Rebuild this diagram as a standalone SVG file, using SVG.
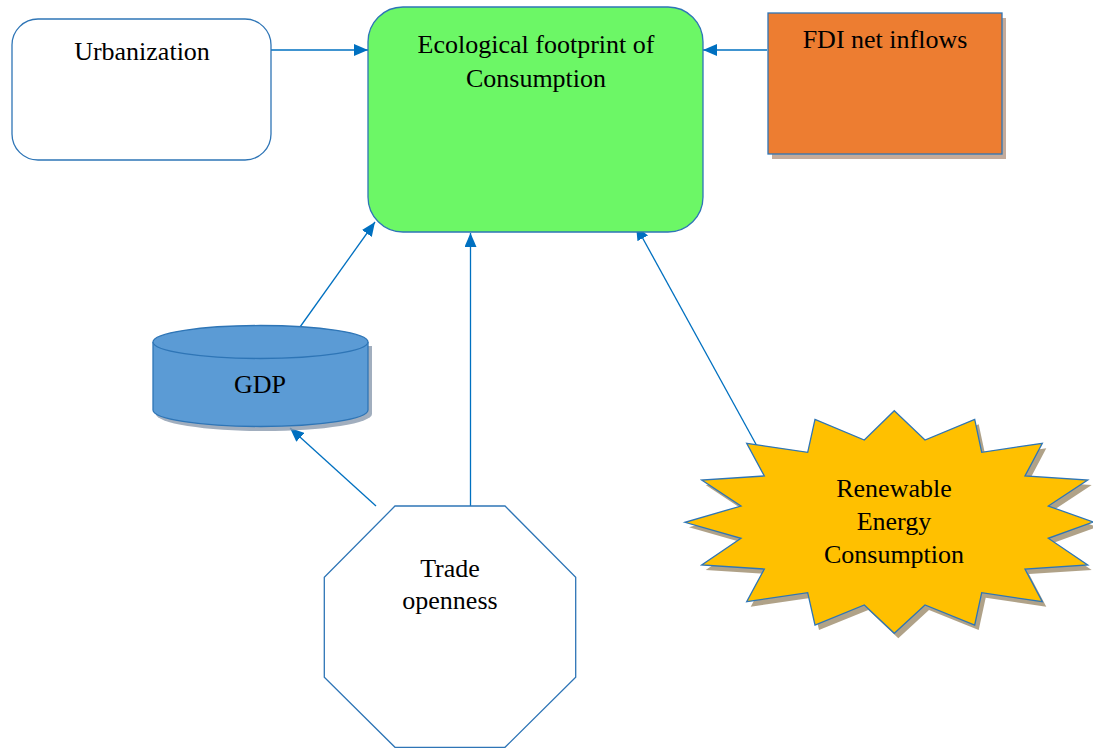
<svg xmlns="http://www.w3.org/2000/svg" width="1093" height="748" viewBox="0 0 1093 748">
<style>
text{font-family:"Liberation Serif","Times New Roman",serif;font-size:26px;fill:#000;text-anchor:middle}
.conn{stroke:#0070C0;stroke-width:1.3;fill:none}
.shape{stroke:#2E75B6;stroke-width:1.3}
</style>
<defs>
<marker id="ah" viewBox="0 0 14 12" refX="14" refY="6" markerWidth="14" markerHeight="12" markerUnits="userSpaceOnUse" orient="auto">
<path d="M0,0 L14,6 L0,12 Z" fill="#0070C0"/>
</marker>
</defs>
<rect width="1093" height="748" fill="#fff"/>
<g id="connectors">
<line class="conn" x1="271" y1="50" x2="368" y2="50" marker-end="url(#ah)"/>
<line class="conn" x1="767" y1="50" x2="703" y2="50" marker-end="url(#ah)"/>
<line class="conn" x1="300" y1="327" x2="375" y2="222" marker-end="url(#ah)"/>
<line class="conn" x1="376" y1="506" x2="290" y2="428" marker-end="url(#ah)"/>
<line class="conn" x1="470.5" y1="506" x2="470.5" y2="233" marker-end="url(#ah)"/>
<line class="conn" x1="763" y1="457" x2="636" y2="226" marker-end="url(#ah)"/>
</g>
<g id="urbanization">
<rect class="shape" x="12" y="19" width="259" height="141" rx="26" fill="#fff"/>
<text x="142" y="60">Urbanization</text>
</g>
<g id="ecological">
<rect class="shape" x="368" y="7" width="335" height="225" rx="35" fill="#6CF766"/>
<text x="536" y="53">Ecological footprint of</text>
<text x="536" y="87">Consumption</text>
</g>
<g id="fdi">
<rect x="772" y="18" width="234" height="141" fill="#B08F7A" opacity="0.75"/>
<rect class="shape" x="768" y="13" width="234" height="141" fill="#ED7D31"/>
<text x="885" y="48">FDI net inflows</text>
</g>
<g id="gdp">
<path d="M156,346 V414 A108,17 0 0 0 372,414 V346 Z" fill="#8A9AAE" opacity="0.8"/>
<path class="shape" d="M153,342 V410 A107.5,16.5 0 0 0 368,410 V342" fill="#5B9BD5"/>
<ellipse class="shape" cx="260.5" cy="342" rx="107.5" ry="16.5" fill="#5B9BD5"/>
<text x="260" y="393">GDP</text>
</g>
<g id="trade">
<polygon class="shape" points="395,506 505,506 575.7,577.3 575.7,677.3 505,747.3 395,747.3 324.3,677.3 324.3,577.3" fill="#fff"/>
<text x="450" y="577">Trade</text>
<text x="450" y="609">openness</text>
</g>
<g id="renewable">
<polygon transform="translate(4,5)" fill="#9C8B6A" opacity="0.8" points="894.3,410.7 925,440 974.7,419.3 981.7,452.3 1042.3,443.3 1025,476 1087.7,480 1048.3,506 1093,522 1048.3,538.3 1087.7,565 1025,569 1042.3,601.7 981.7,592.7 974.7,625 925,605 894.3,633.3 864.3,605 815,625 807.7,592.7 746.7,601.7 764.3,569 701.7,565 741,538.3 685,522.3 741,506 701.7,480 764.3,476 746.7,443.3 807.7,452.3 815,419.3 864.3,440"/>
<polygon class="shape" fill="#FFC000" points="894.3,410.7 925,440 974.7,419.3 981.7,452.3 1042.3,443.3 1025,476 1087.7,480 1048.3,506 1093,522 1048.3,538.3 1087.7,565 1025,569 1042.3,601.7 981.7,592.7 974.7,625 925,605 894.3,633.3 864.3,605 815,625 807.7,592.7 746.7,601.7 764.3,569 701.7,565 741,538.3 685,522.3 741,506 701.7,480 764.3,476 746.7,443.3 807.7,452.3 815,419.3 864.3,440"/>
<text x="894" y="497">Renewable</text>
<text x="894" y="530">Energy</text>
<text x="894" y="563">Consumption</text>
</g>
</svg>
